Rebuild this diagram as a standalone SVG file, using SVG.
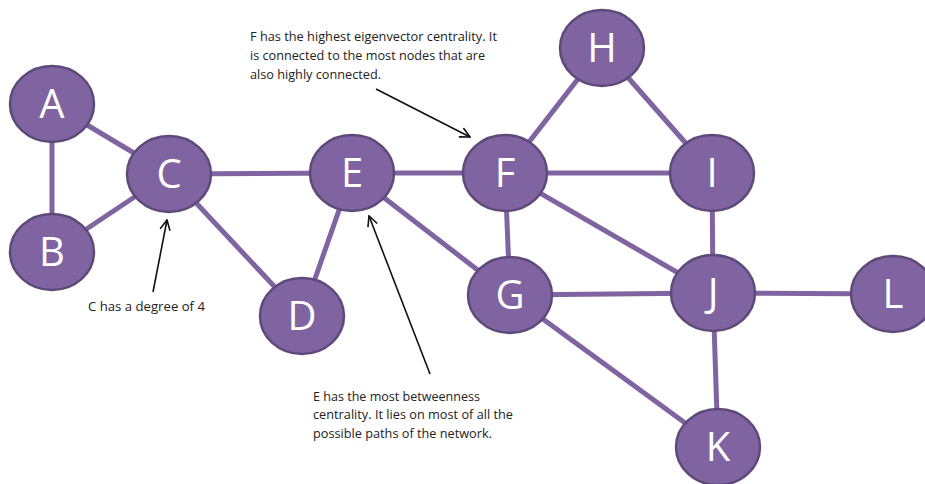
<svg xmlns="http://www.w3.org/2000/svg" width="925" height="484" viewBox="0 0 925 484">
<defs>
<marker id="ah" viewBox="0 0 12 12" refX="11" refY="6" markerWidth="12" markerHeight="12" markerUnits="userSpaceOnUse" orient="auto">
<path d="M1,1 L11,6 L1,11" fill="none" stroke="#111" stroke-width="1.6"/>
</marker>
</defs>
<style>
.edge{stroke:#8064a2;stroke-width:5;fill:none}
.node ellipse{fill:#8064a2;stroke:#5d4a7a;stroke-width:2.5}
.node text{fill:#fff;font-family:"Open Sans","Liberation Sans",sans-serif;font-size:40px;text-anchor:middle}
.note{fill:#222;font-family:"Open Sans","Liberation Sans",sans-serif;font-size:12.5px}
.arrow{stroke:#111;stroke-width:1.6;fill:none;marker-end:url(#ah)}
</style>
<rect width="925" height="484" fill="#fff"/>
<g id="connectors">
<line class="edge" x1="52" y1="104" x2="52" y2="252"/>
<line class="edge" x1="52" y1="104" x2="169" y2="174"/>
<line class="edge" x1="52" y1="252" x2="169" y2="174"/>
<line class="edge" x1="169" y1="174" x2="352" y2="173"/>
<line class="edge" x1="169" y1="174" x2="302" y2="316"/>
<line class="edge" x1="302" y1="316" x2="352" y2="173"/>
<line class="edge" x1="352" y1="173" x2="505" y2="173"/>
<line class="edge" x1="352" y1="173" x2="510" y2="295"/>
<line class="edge" x1="505" y1="173" x2="602" y2="48"/>
<line class="edge" x1="602" y1="48" x2="712" y2="173"/>
<line class="edge" x1="505" y1="173" x2="712" y2="173"/>
<line class="edge" x1="505" y1="173" x2="510" y2="295"/>
<line class="edge" x1="505" y1="173" x2="713" y2="293"/>
<line class="edge" x1="510" y1="295" x2="713" y2="293"/>
<line class="edge" x1="712" y1="173" x2="713" y2="293"/>
<line class="edge" x1="713" y1="293" x2="893" y2="294"/>
<line class="edge" x1="713" y1="293" x2="718" y2="447"/>
<line class="edge" x1="510" y1="295" x2="718" y2="447"/>
<line class="arrow" x1="376" y1="89" x2="470" y2="137"/>
<line class="arrow" x1="153" y1="292" x2="167" y2="220"/>
<line class="arrow" x1="430" y1="374" x2="369" y2="216"/>
</g>
<g id="A" class="node"><ellipse cx="52" cy="104" rx="42" ry="38"/><text x="52" y="118">A</text></g>
<g id="B" class="node"><ellipse cx="52" cy="252" rx="42" ry="38"/><text x="52" y="266">B</text></g>
<g id="C" class="node"><ellipse cx="169" cy="174" rx="42" ry="38"/><text x="169" y="188">C</text></g>
<g id="D" class="node"><ellipse cx="302" cy="316" rx="42" ry="38"/><text x="302" y="330">D</text></g>
<g id="E" class="node"><ellipse cx="352" cy="173" rx="42" ry="38"/><text x="352" y="187">E</text></g>
<g id="F" class="node"><ellipse cx="505" cy="173" rx="42" ry="38"/><text x="505" y="187">F</text></g>
<g id="G" class="node"><ellipse cx="510" cy="295" rx="42" ry="38"/><text x="510" y="309">G</text></g>
<g id="H" class="node"><ellipse cx="602" cy="48" rx="42" ry="38"/><text x="602" y="62">H</text></g>
<g id="I" class="node"><ellipse cx="712" cy="173" rx="42" ry="38"/><text x="712" y="187">I</text></g>
<g id="J" class="node"><ellipse cx="713" cy="293" rx="42" ry="38"/><text x="713" y="307">J</text></g>
<g id="K" class="node"><ellipse cx="718" cy="447" rx="42" ry="38"/><text x="718" y="461">K</text></g>
<g id="L" class="node"><ellipse cx="893" cy="294" rx="42" ry="38"/><text x="893" y="308">L</text></g>
<g id="notes">
<text class="note" x="250" y="41" textLength="247" lengthAdjust="spacingAndGlyphs">F has the highest eigenvector centrality. It</text>
<text class="note" x="250" y="60" textLength="235" lengthAdjust="spacingAndGlyphs">is connected to the most nodes that are</text>
<text class="note" x="250" y="79" textLength="131" lengthAdjust="spacingAndGlyphs">also highly connected.</text>
<text class="note" x="88" y="311" textLength="117" lengthAdjust="spacingAndGlyphs">C has a degree of 4</text>
<text class="note" x="313" y="401" textLength="167" lengthAdjust="spacingAndGlyphs">E has the most betweenness</text>
<text class="note" x="313" y="419" textLength="200" lengthAdjust="spacingAndGlyphs">centrality. It lies on most of all the</text>
<text class="note" x="313" y="438" textLength="179" lengthAdjust="spacingAndGlyphs">possible paths of the network.</text>
</g>
</svg>
